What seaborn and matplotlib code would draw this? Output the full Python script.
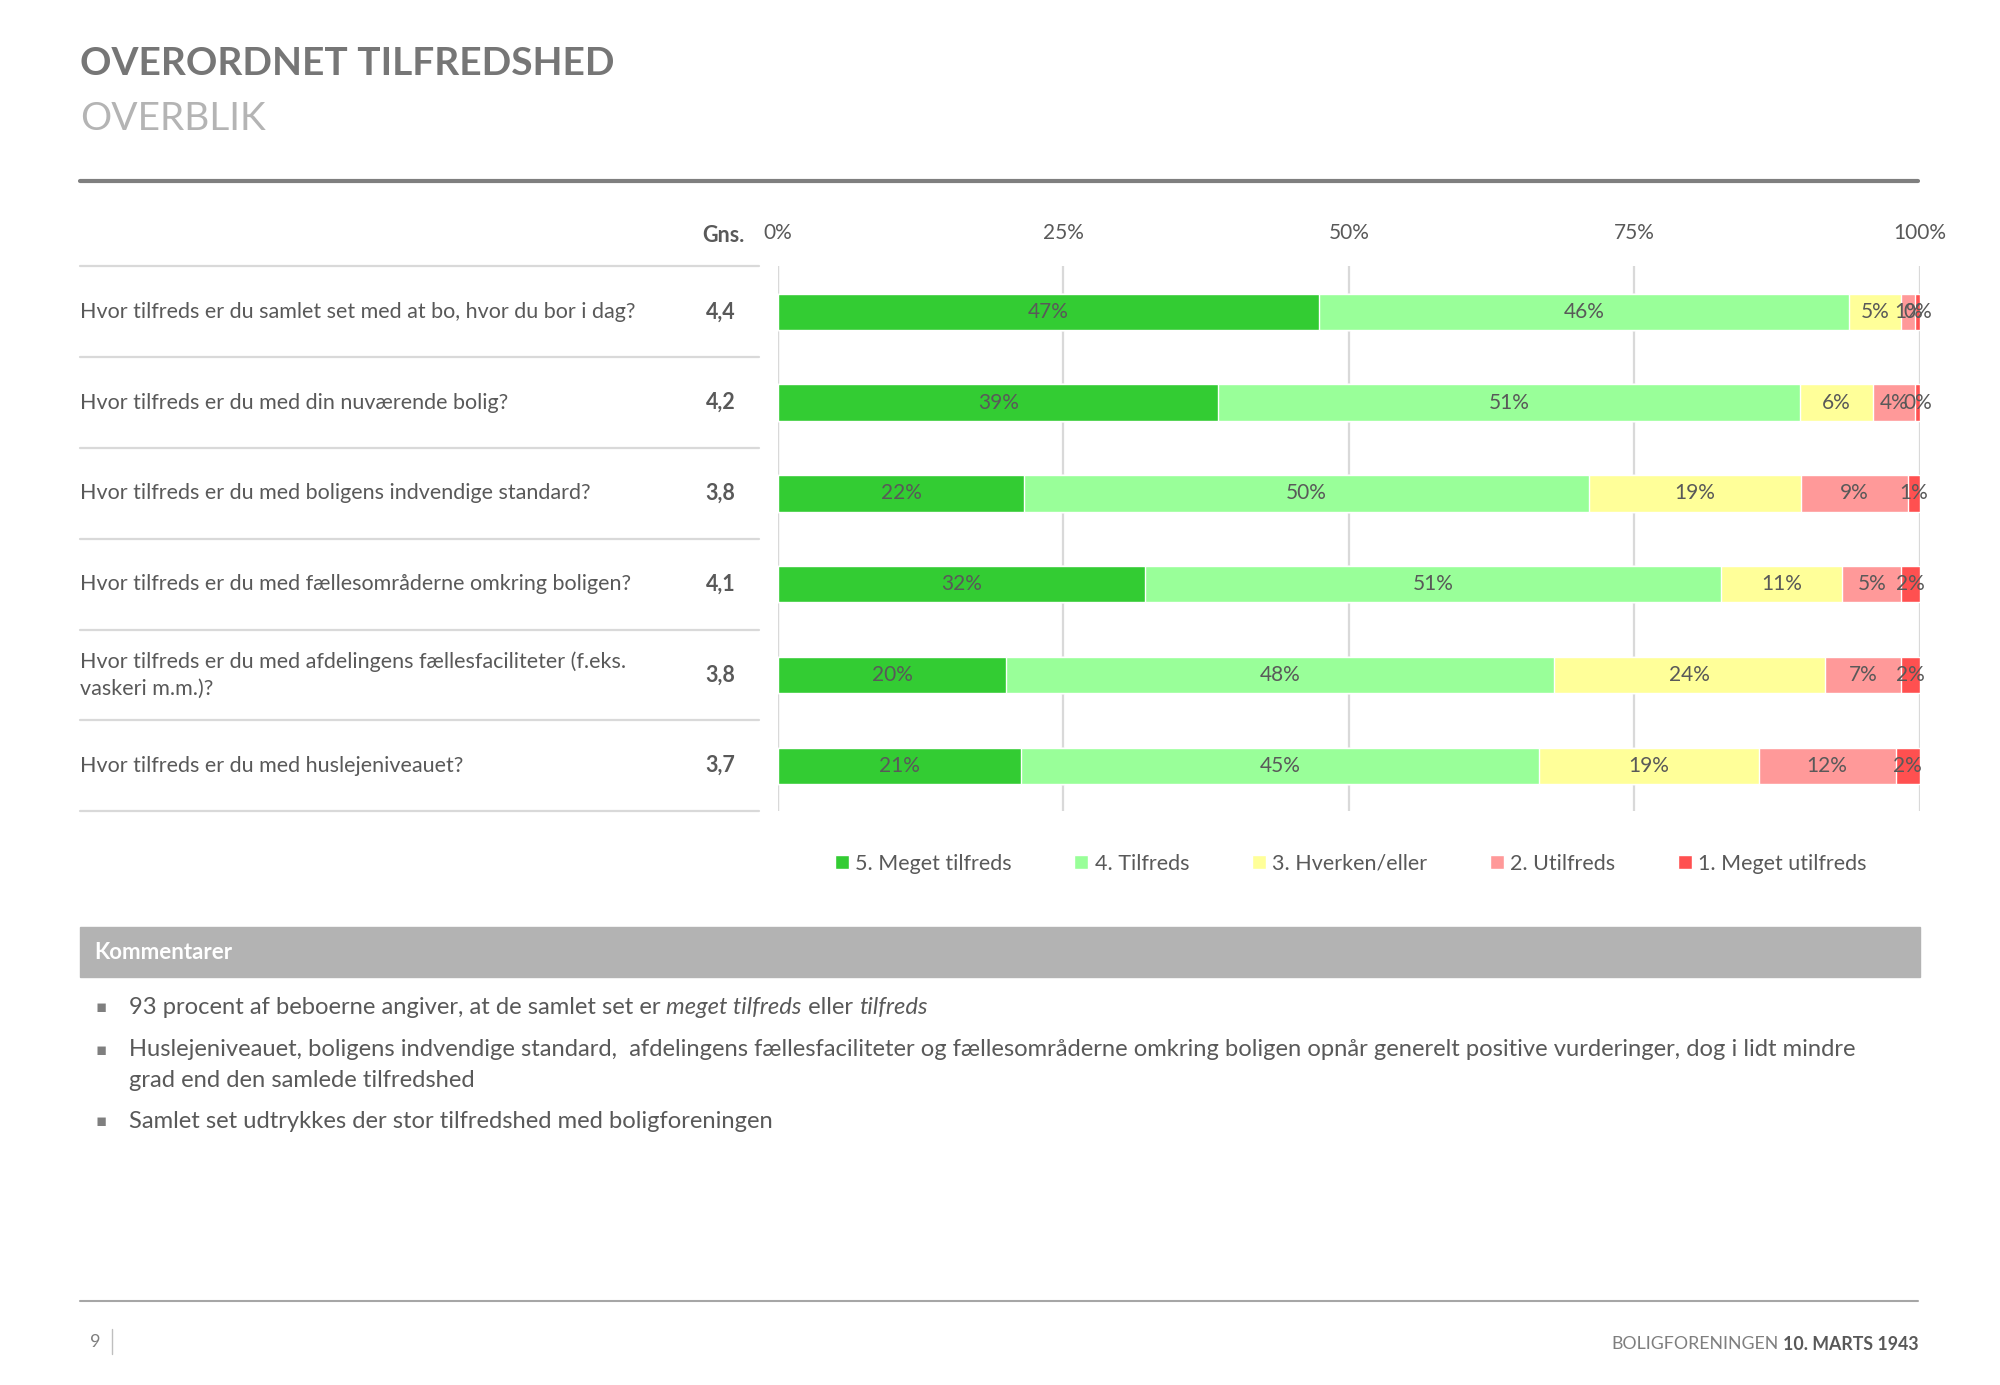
import numpy as np
import pandas as pd
import matplotlib
matplotlib.use("Agg")
import matplotlib.pyplot as plt
import matplotlib.transforms as mtransforms
from matplotlib.lines import Line2D
from matplotlib.patches import Rectangle
import seaborn as sns

# Data
spoergsmaal = [
    "Hvor tilfreds er du samlet set med at bo, hvor du bor i dag?",
    "Hvor tilfreds er du med din nuværende bolig?",
    "Hvor tilfreds er du med boligens indvendige standard?",
    "Hvor tilfreds er du med fællesområderne omkring boligen?",
    "Hvor tilfreds er du med afdelingens fællesfaciliteter (f.eks.\nvaskeri m.m.)?",
    "Hvor tilfreds er du med huslejeniveauet?",
]
gns = ["4,4", "4,2", "3,8", "4,1", "3,8", "3,7"]
kategorier = ["5. Meget tilfreds", "4. Tilfreds", "3. Hverken/eller",
              "2. Utilfreds", "1. Meget utilfreds"]
meget_tilfreds = [47.3, 38.6, 21.6, 32.2, 20.0, 21.3]
tilfreds = [46.3, 51.0, 49.6, 50.6, 48.0, 45.4]
hverken = [4.6, 6.4, 18.6, 10.6, 23.7, 19.2]
utilfreds = [1.2, 3.7, 9.4, 5.2, 6.7, 12.0]
meget_utilfreds = [0.4, 0.4, 1.0, 1.6, 1.6, 2.1]
farver = ["#33cc33", "#99ff99", "#ffff99", "#ff9999", "#ff5050"]
xticks = [0, 25, 50, 75, 100]

kommentarer = [
    [("93 procent af beboerne angiver, at de samlet set er ", "normal"),
     ("meget tilfreds", "italic"), (" eller ", "normal"), ("tilfreds", "italic")],
    [("Huslejeniveauet, boligens indvendige standard,  afdelingens fællesfaciliteter og "
      "fællesområderne omkring boligen opnår generelt positive vurderinger, dog i lidt mindre", "normal")],
    [("grad end den samlede tilfredshed", "normal")],
    [("Samlet set udtrykkes der stor tilfredshed med boligforeningen", "normal")],
]

sns.set_theme(style="white")
plt.rcParams["font.family"] = ["Lato", "DejaVu Sans"]
GRAA = "#595959"

df = pd.DataFrame({
    "q": spoergsmaal,
    kategorier[0]: meget_tilfreds,
    kategorier[1]: tilfreds,
    kategorier[2]: hverken,
    kategorier[3]: utilfreds,
    kategorier[4]: meget_utilfreds,
})
raw = df[kategorier].to_numpy()
andel = raw / raw.sum(axis=1, keepdims=True) * 100
cum = np.cumsum(andel, axis=1)

fig = plt.figure(figsize=(20, 13.85), dpi=100)
ax = fig.add_axes([0.3890, 0.4144, 0.5708, 0.3932])

# stacked bars: draw cumulative sums from the widest down
for k in range(len(kategorier) - 1, -1, -1):
    sns.barplot(x=cum[:, k], y=df["q"], orient="h", color=farver[k],
                width=0.4, saturation=1, label=kategorier[k], ax=ax, zorder=3)

for i in range(len(spoergsmaal)):
    for k in range(len(kategorier)):
        xc = cum[i, k] - andel[i, k] / 2
        ax.text(xc, i, f"{round(raw[i, k])}%", ha="center", va="center",
                fontsize=15, color=GRAA, zorder=4)

ax.set_xlim(0, 100)
ax.set_ylim(5.5, -0.5)
ax.set_xticks(xticks)
ax.set_xticklabels([f"{t}%" for t in xticks], fontsize=15, color=GRAA)
ax.xaxis.tick_top()
ax.tick_params(axis="x", length=0, pad=17)
ax.set_yticks([])
ax.set_xlabel("")
ax.set_ylabel("")
for s in ax.spines.values():
    s.set_visible(False)
ax.grid(axis="x", color="#d9d9d9", lw=1.6, zorder=0)
ax.axvline(0, color="#d9d9d9", lw=1.6, zorder=1)

handles, labels = ax.get_legend_handles_labels()
ax.legend(handles[::-1], labels[::-1], ncol=5, frameon=False,
          loc="center", bbox_to_anchor=(0.6754, 0.3765), bbox_transform=fig.transFigure,
          fontsize=15.5, labelcolor=GRAA, handlelength=0.65, handleheight=0.65,
          handletextpad=0.3, columnspacing=2.9)

# left-hand table
tr = mtransforms.blended_transform_factory(fig.transFigure, ax.transData)
for i, q in enumerate(spoergsmaal):
    ax.text(0.0402, i, q, transform=tr, ha="left", va="center", fontsize=15.5,
            color=GRAA, linespacing=1.4)
    ax.text(0.3603, i, gns[i], transform=tr, ha="center", va="center",
            fontsize=15.5, fontweight="bold", color=GRAA)
for yy in np.arange(-0.5, len(spoergsmaal), 1.0):
    ax.add_line(Line2D([0.0402, 0.3795], [yy, yy], transform=tr, color="#d9d9d9",
                       lw=1.6, clip_on=False))
fig.text(0.3616, 0.8297, "Gns.", ha="center", va="center", fontsize=15.5,
         fontweight="bold", color=GRAA)

# header
fig.text(0.0402, 0.9540, "OVERORDNET TILFREDSHED", ha="left", va="center",
         fontsize=28, fontweight="bold", color="#767676")
fig.text(0.0402, 0.9144, "OVERBLIK", ha="left", va="center", fontsize=28,
         color="#b4b4b4")
fig.add_artist(Line2D([0.0402, 0.9592], [0.8692, 0.8692], color="#7f7f7f", lw=3))

# comments box
fig.add_artist(Rectangle((0.0402, 0.2947), 0.9196, 0.0359, color="#b3b3b3",
                         transform=fig.transFigure))
fig.text(0.0472, 0.3122, "Kommentarer", ha="left", va="center", fontsize=16,
         fontweight="bold", color="white")

renderer = fig.canvas.get_renderer()
linje_y = [0.2726, 0.2422, 0.2201, 0.1906]
bullet = [True, True, False, True]
for y, dele, b in zip(linje_y, kommentarer, bullet):
    if b:
        fig.text(0.0504, y, "▪", ha="center", va="center", fontsize=12, color="#7f7f7f",
                 family=["DejaVu Sans"])
    x = 0.0644
    for tekst, stil in dele:
        t = fig.text(x, y, tekst, ha="left", va="center", fontsize=17.1,
                     color=GRAA, style=stil)
        bb = t.get_window_extent(renderer)
        x = fig.transFigure.inverted().transform((bb.x1, bb.y0))[0]

# footer
fig.add_artist(Line2D([0.0402, 0.9592], [0.0608, 0.0608], color="#a6a6a6", lw=1.5))
fig.text(0.0478, 0.0313, "9", ha="center", va="center", fontsize=13, color="#7f7f7f")
fig.add_artist(Line2D([0.0561, 0.0561], [0.0221, 0.0405], color="#bfbfbf", lw=1))
fb = fig.text(0.9592, 0.0295, "10. MARTS 1943", ha="right", va="center", fontsize=12.8,
              fontweight="bold", color=GRAA)
bb = fb.get_window_extent(renderer)
x0 = fig.transFigure.inverted().transform((bb.x0, bb.y0))[0]
fig.text(x0 - 0.002, 0.0295, "BOLIGFORENINGEN", ha="right", va="center", fontsize=12.8,
         color="#7f7f7f")

fig.savefig("out.png", dpi=100, facecolor="white")
